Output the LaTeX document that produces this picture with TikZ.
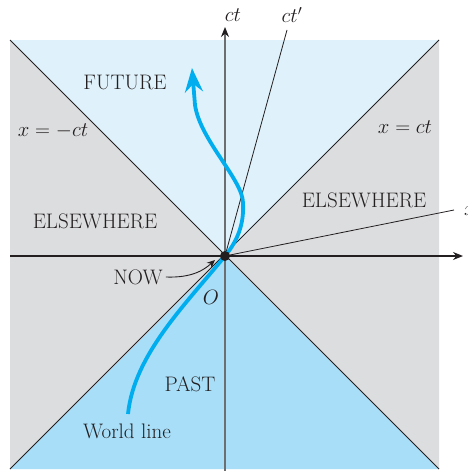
\documentclass[tikz,border=0pt]{standalone}
\usetikzlibrary{arrows.meta}
\definecolor{futr}{HTML}{DFF1FA}
\definecolor{pastc}{HTML}{A8DEF8}
\definecolor{elsw}{HTML}{DCDDDF}
\definecolor{wline}{HTML}{00AEEF}
\definecolor{axgray}{HTML}{6D6E70}
\definecolor{txt}{HTML}{231F20}

\begin{document}
\begin{tikzpicture}[x=1pt, y=-1pt,
  >=Stealth,
  lbl/.style={font=\fontsize{21}{23}\selectfont, text=txt, inner sep=0pt},
  axisline/.style={-{Stealth[length=10pt, width=8pt]}, line width=1.5pt, color=txt},
  coneline/.style={line width=0.8pt, color=txt},
  worldln/.style={-{Stealth[length=24pt, width=18pt, inset=8pt]}, line width=3.8pt, color=wline},
  nowarr/.style={-{Stealth[length=8pt, width=7pt]}, line width=0.9pt, color=txt},
]
\useasboundingbox (0,0) rectangle (467,471);
\clip (0,0) rectangle (467,471);

% corners of the square and the event O
\coordinate (O) at (225,256);
\coordinate (tl) at (10,40);
\coordinate (tr) at (439,40);
\coordinate (bl) at (10,469);
\coordinate (br) at (439,469);

% regions
\fill[futr] (tl) -- (tr) -- (O) -- cycle;
\fill[pastc] (bl) -- (br) -- (O) -- cycle;
\fill[elsw] (tl) -- (bl) -- (O) -- cycle;
\fill[elsw] (tr) -- (br) -- (O) -- cycle;

% light cone
\draw[coneline] (tl) -- (br);
\draw[coneline] (tr) -- (bl);

% axes
\coordinate (ctbot) at (225,471);
\coordinate (cttop) at (225,27);
\coordinate (xleft) at (10,256);
\coordinate (xright) at (463,256);
\coordinate (ctp) at (287,30);
\coordinate (xp) at (454,210);
\draw[-{Stealth[color=txt, length=10pt, width=8pt]}, line width=1.1pt, axgray] (ctbot) -- (cttop);
\draw[axisline] (xleft) -- (xright);
\draw[coneline] (O) -- (ctp);
\draw[coneline] (O) -- (xp);

% world line
\coordinate (wlstart) at (128,414);
\coordinate (wlpeak) at (243,203);
\coordinate (wlbend) at (195,105);
\coordinate (wlend) at (192,68);
\draw[worldln] (wlstart) .. controls (134,355) and (185,305) .. (O)
  .. controls (240,238) and (244,220) .. (wlpeak)
  .. controls (243,180) and (200,140) .. (wlbend) -- (wlend);

\node[circle, fill=txt, inner sep=0pt, minimum size=10pt] (dot) at (O) {};

% labels
\node[lbl] (future) at (125,82) {FUTURE};
\node[lbl] (past) at (190,384) {PAST};
\node[lbl] (elsel) at (95,221) {ELSEWHERE};
\node[lbl] (elser) at (364,200) {ELSEWHERE};
\node[lbl] (xmct) at (53,131) {$x=-ct$};
\node[lbl] (xct) at (405,127) {$x=ct$};
\node[lbl] (now) at (138,277) {NOW};
\node[lbl] (orig) at (211,297) {$O$};
\node[lbl] (wl) at (127,431) {World line};
\node[lbl] (ctl) at (233,15) {$ct$};
\node[lbl] (ctpl) at (292,15) {$ct'$};
\node[lbl, anchor=west] (xpl) at (464,208) {$x'$};

\coordinate (nowtip) at (215,260);
\draw[nowarr] (now.east) ++(3,0) .. controls (192,278) and (204,270) .. (nowtip);
\end{tikzpicture}
\end{document}
